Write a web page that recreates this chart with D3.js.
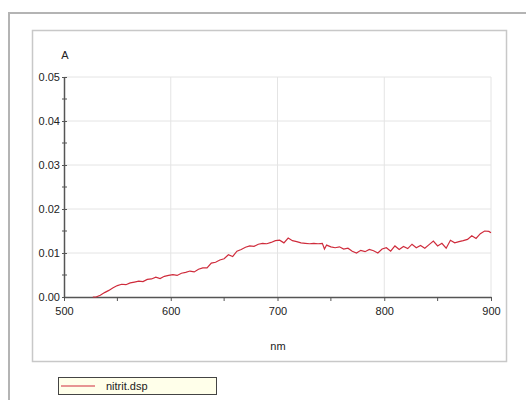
<!DOCTYPE html>
<html>
<head>
<meta charset="utf-8">
<script src="https://cdn.jsdelivr.net/npm/d3@7"></script>
<style>
  body { margin: 0; background: #fff; }
  svg { display: block; font-family: "Liberation Sans", Arial, sans-serif; }
</style>
</head>
<body>
<div id="chart"></div>
<script>
// spectrum (nm, absorbance)
const wavelengths = [
  527, 530, 534, 538, 542, 546, 550, 554, 558, 562, 566, 570, 574, 578, 582, 586, 590, 594, 598,
  602, 606, 610, 614, 618, 622, 626, 630, 634, 638, 642, 646, 650, 654, 658, 662, 666, 670, 674,
  678, 682, 686, 690, 694, 698, 702, 706, 710, 714, 718, 722, 726, 730, 734, 738, 742, 744, 746, 750,
  754, 758, 762, 766, 770, 774, 778, 782, 786, 790, 794, 798, 802, 806, 810, 814, 818, 822, 826,
  830, 834, 838, 842, 846, 850, 854, 858, 862, 866, 870, 874, 878, 882, 886, 890, 894, 898, 900
];
const absorbance = [
  0.0000, 0.0000, 0.0004, 0.0010, 0.0015, 0.0021, 0.0026, 0.0029, 0.0028, 0.0032, 0.0034, 0.0036, 0.0035, 0.0040, 0.0041, 0.0045, 0.0042, 0.0047, 0.0049,
  0.0051, 0.0049, 0.0054, 0.0056, 0.0059, 0.0057, 0.0063, 0.0066, 0.0066, 0.0077, 0.0079, 0.0084, 0.0087, 0.0096, 0.0092, 0.0104, 0.0108, 0.0113, 0.0116,
  0.0115, 0.0120, 0.0122, 0.0121, 0.0124, 0.0128, 0.0129, 0.0123, 0.0134, 0.0128, 0.0126, 0.0123, 0.0122, 0.0121, 0.0122, 0.0121, 0.0122, 0.0109, 0.0118, 0.0114,
  0.0112, 0.0114, 0.0109, 0.0111, 0.0104, 0.0100, 0.0106, 0.0103, 0.0108, 0.0105, 0.0100, 0.0109, 0.0112, 0.0104, 0.0116, 0.0108, 0.0115, 0.0110, 0.0120,
  0.0112, 0.0117, 0.0111, 0.0119, 0.0127, 0.0116, 0.0122, 0.0111, 0.0129, 0.0123, 0.0126, 0.0128, 0.0131, 0.0139, 0.0133, 0.0144, 0.0150, 0.0149, 0.0146
];
const xTicks = [500, 600, 700, 800, 900];
const xMinor = [550, 650, 750, 850];
const yTicks = [0, 0.01, 0.02, 0.03, 0.04, 0.05];
const yMinor = [0.005, 0.015, 0.025, 0.035, 0.045];
const seriesName = 'nitrit.dsp';

const width = 526, height = 400;
const svg = d3.select('#chart').append('svg')
  .attr('width', width)
  .attr('height', height);

// frames
svg.append('rect')
  .attr('x', 9).attr('y', 13)
  .attr('width', 540).attr('height', 400)
  .attr('fill', '#fff')
  .attr('stroke', '#b4b4b4').attr('stroke-width', 2);

svg.append('rect')
  .attr('x', 32.5).attr('y', 30.5)
  .attr('width', 474).attr('height', 331)
  .attr('fill', '#fff')
  .attr('stroke', '#c8c8c8').attr('stroke-width', 1.5);

const x = d3.scaleLinear().domain([500, 900]).range([64, 491]);
const y = d3.scaleLinear().domain([0, 0.05]).range([297, 77]);

// grid
svg.append('g').selectAll('line')
  .data(xTicks.slice(1))
  .join('line')
  .attr('x1', d => x(d)).attr('x2', d => x(d))
  .attr('y1', y(0)).attr('y2', y(0.05))
  .attr('stroke', '#e4e4e4');

svg.append('g').selectAll('line')
  .data(yTicks.slice(1))
  .join('line')
  .attr('x1', x(500)).attr('x2', x(900))
  .attr('y1', d => y(d)).attr('y2', d => y(d))
  .attr('stroke', '#e4e4e4');

// axes
const xAxis = d3.axisBottom(x).tickValues(xTicks).tickSize(4).tickSizeOuter(0).tickPadding(6);
const gx = svg.append('g')
  .attr('transform', `translate(0,${y(0)})`)
  .call(xAxis);
gx.select('.domain').attr('stroke', '#555').attr('stroke-width', 1.5);
gx.selectAll('.tick line').attr('stroke', '#555');
gx.selectAll('.tick text').attr('fill', '#222').style('font-size', '11px')
  .attr('font-family', '"Liberation Sans", Arial, sans-serif');

gx.selectAll('.minor')
  .data(xMinor)
  .join('line')
  .attr('class', 'minor')
  .attr('x1', d => x(d)).attr('x2', d => x(d))
  .attr('y1', 0).attr('y2', 4)
  .attr('stroke', '#555');

const yAxis = d3.axisLeft(y).tickValues(yTicks).tickFormat(d3.format('.2f'))
  .tickSize(3).tickSizeOuter(0).tickPadding(1);
const gy = svg.append('g')
  .attr('transform', `translate(${x(500)},0)`)
  .call(yAxis);
gy.select('.domain').attr('stroke', '#555').attr('stroke-width', 1.5);
gy.selectAll('.tick line').attr('stroke', '#555').attr('x2', 3).attr('x1', -2);
gy.selectAll('.tick text').attr('fill', '#222').style('font-size', '11px')
  .attr('font-family', '"Liberation Sans", Arial, sans-serif');

gy.selectAll('.minor')
  .data(yMinor)
  .join('line')
  .attr('class', 'minor')
  .attr('x1', -2).attr('x2', 3)
  .attr('y1', d => y(d)).attr('y2', d => y(d))
  .attr('stroke', '#555');

// axis titles
svg.append('text')
  .attr('x', 65).attr('y', 59)
  .attr('text-anchor', 'middle')
  .attr('fill', '#222').style('font-size', '11px')
  .text('A');

svg.append('text')
  .attr('x', 278).attr('y', 350)
  .attr('text-anchor', 'middle')
  .attr('fill', '#222').style('font-size', '11px')
  .text('nm');

// spectrum
const pts = wavelengths.map((w, i) => [w, absorbance[i]]);
const line = d3.line()
  .x(d => x(d[0]))
  .y(d => y(d[1]));

svg.append('path')
  .datum(pts)
  .attr('d', line)
  .attr('fill', 'none')
  .attr('stroke', '#cf2c3c')
  .attr('stroke-width', 1.2);

// legend
const legend = svg.append('g');
legend.append('rect')
  .attr('x', 58.5).attr('y', 377.5)
  .attr('width', 158).attr('height', 17)
  .attr('fill', '#ffffea')
  .attr('stroke', '#444').attr('stroke-width', 1);
legend.append('line')
  .attr('x1', 61).attr('x2', 95)
  .attr('y1', 386).attr('y2', 386)
  .attr('stroke', '#cf2c3c').attr('stroke-width', 1.2);
legend.append('text')
  .attr('x', 106).attr('y', 390)
  .attr('fill', '#222').style('font-size', '11px')
  .text(seriesName);
</script>
</body>
</html>
